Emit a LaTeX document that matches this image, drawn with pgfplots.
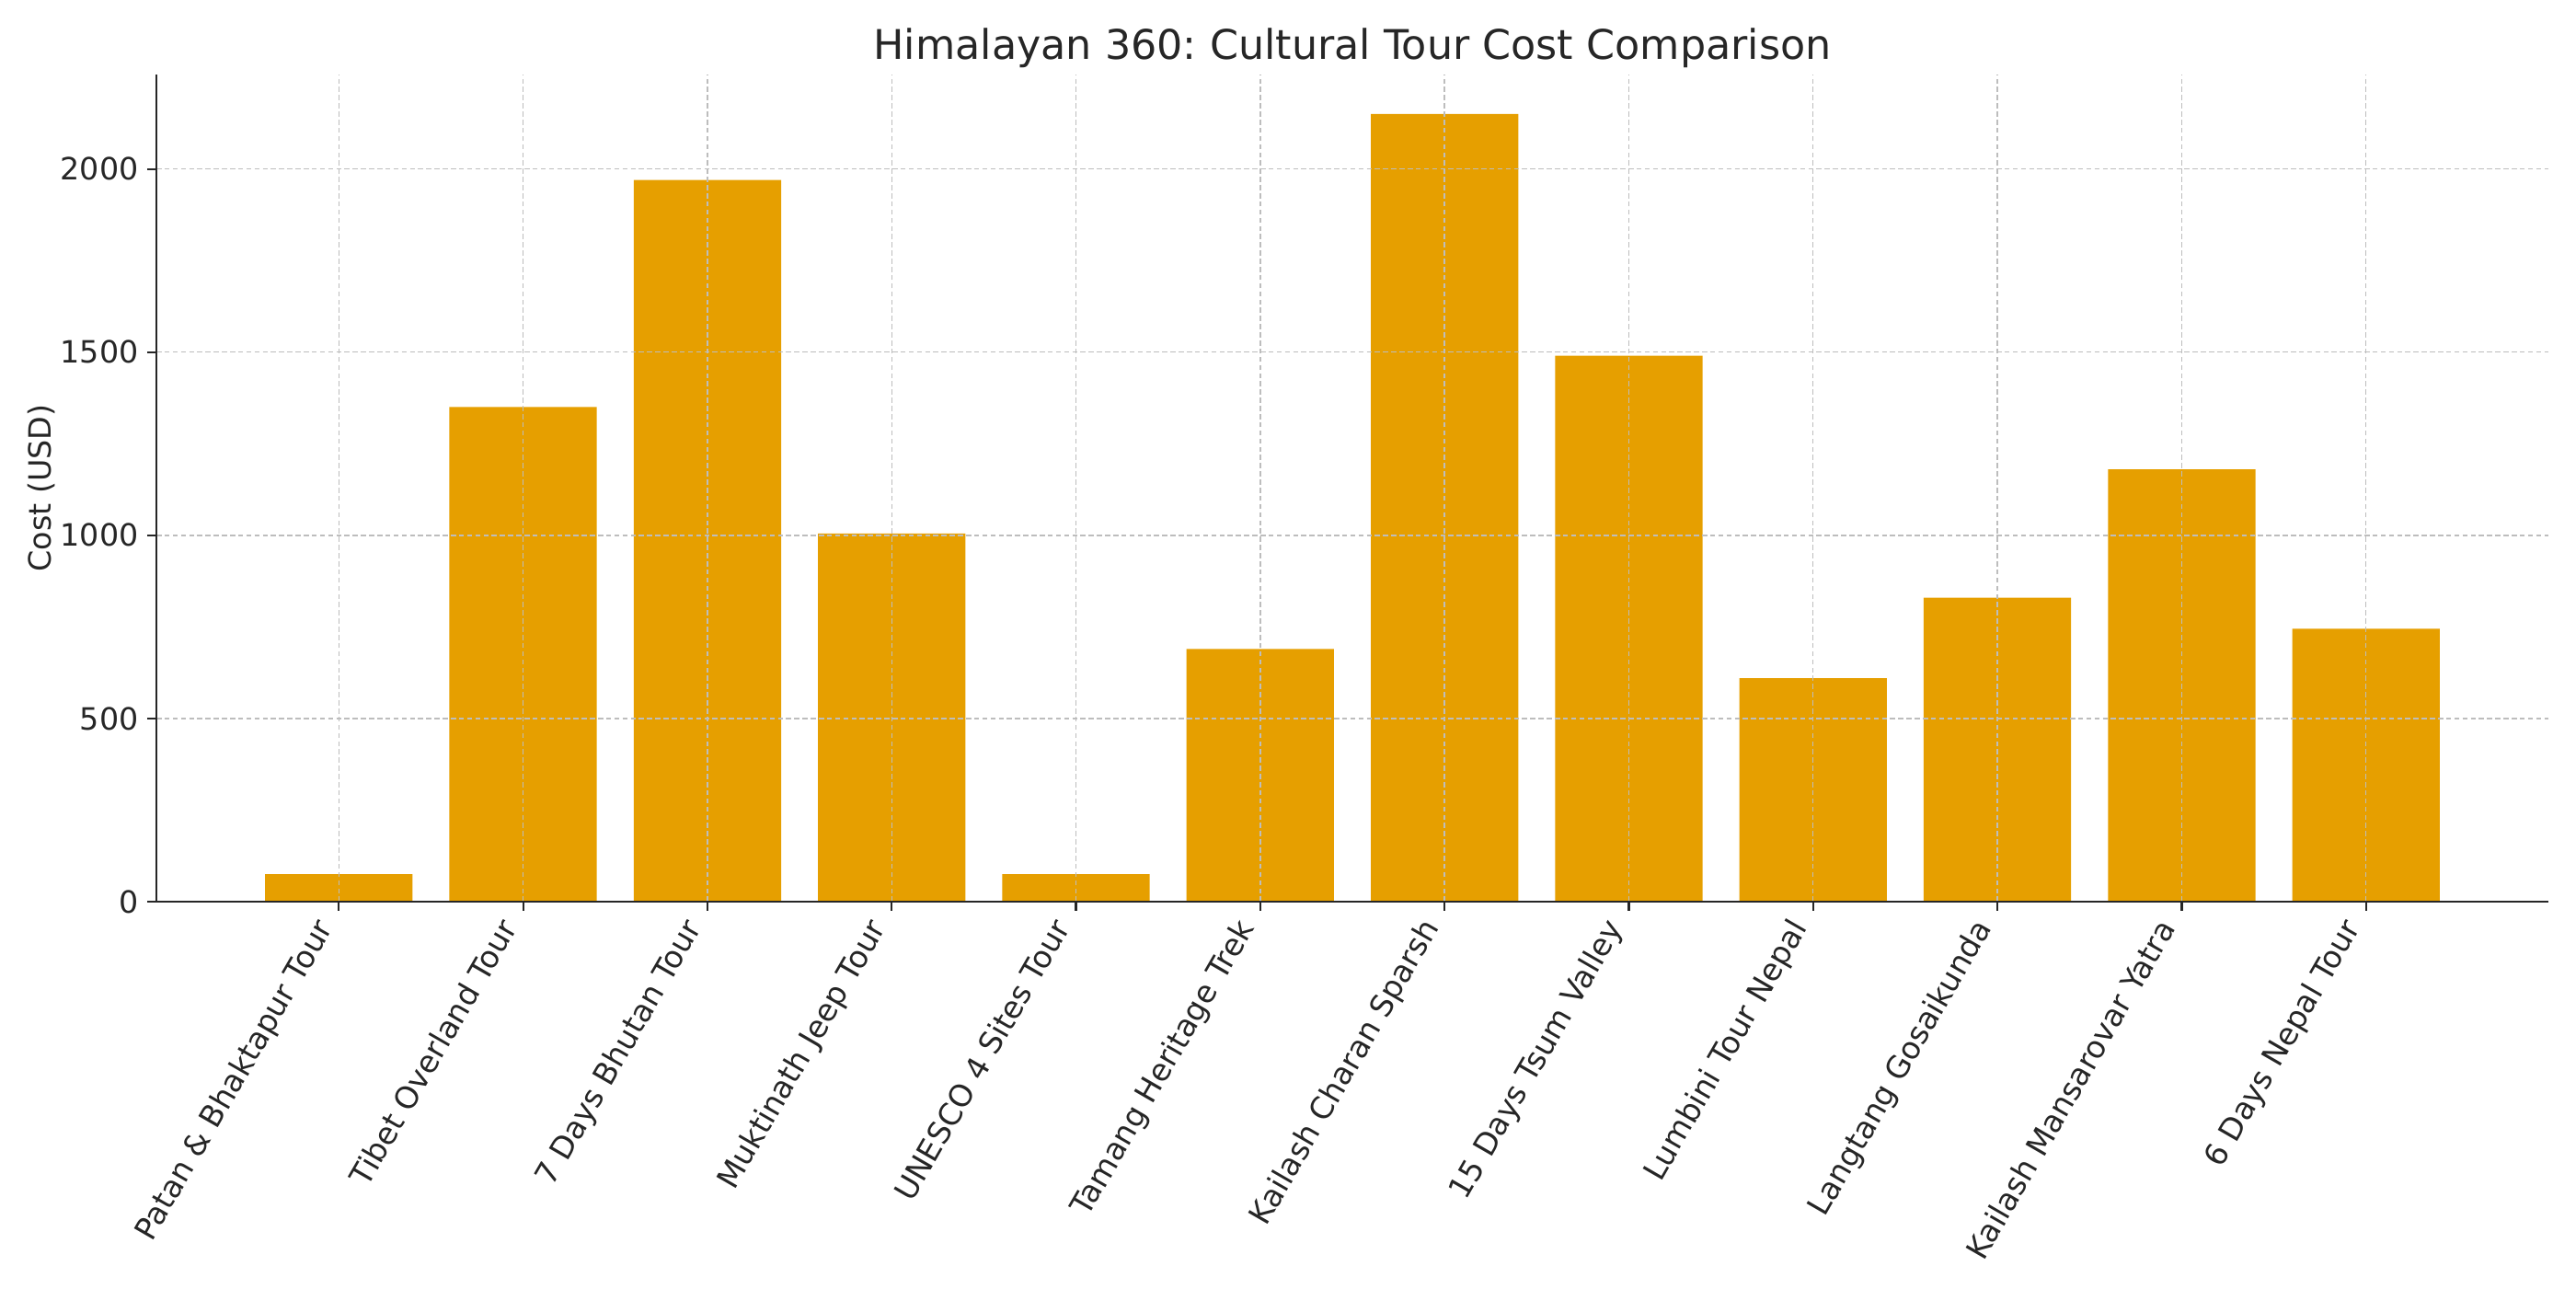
\documentclass[border=0pt]{standalone}
\usepackage{pgfplots}
\pgfplotsset{compat=1.18}
\usepackage{fontspec}
\setmainfont{DejaVu Sans}
\frenchspacing
\definecolor{barc}{HTML}{E69F00}
\definecolor{txt}{HTML}{262626}
\definecolor{gridc}{HTML}{BDBDBD}
\begin{document}
\begin{tikzpicture}
\path[use as bounding box] (-61.2pt,-151.2pt) rectangle (946.8pt,352.8pt);
\begin{axis}[
  at={(0,0)}, anchor=south west,
  scale only axis,
  width=936pt, height=323.6pt,
  xmin=-0.99, xmax=11.99,
  ymin=0, ymax=2257.5,
  axis x line*=bottom, axis y line*=left,
  axis line style={txt, line width=1pt},
  axis on top,
  tick align=outside,
  major tick length=3.5pt,
  tick style={txt, line width=0.8pt},
  xtick={0,...,11},
  xticklabels={Patan \& Bhaktapur Tour, Tibet Overland Tour, 7 Days Bhutan Tour, Muktinath Jeep Tour, UNESCO 4 Sites Tour, Tamang Heritage Trek, Kailash Charan Sparsh, 15 Days Tsum Valley, Lumbini Tour Nepal, Langtang Gosaikunda, Kailash Mansarovar Yatra, 6 Days Nepal Tour},
  ytick={0,500,1000,1500,2000},
  yticklabel style={font=\fontsize{12}{14}\selectfont, color=txt},
  xticklabel style={font=\fontsize{12}{14}\selectfont, color=txt, xshift=-10pt, yshift=-2pt, rotate=60, anchor=north east, inner sep=0pt},
  /pgf/number format/assume math mode=true,
  /pgf/number format/set thousands separator={},
  grid=major,
  major grid style={gridc, dashed, dash pattern=on 2pt off 1.2pt, line width=0.5pt},
  ylabel={Cost (USD)},
  ylabel style={at={(axis description cs:-0.048,0.5)}, anchor=center, font=\fontsize{12}{14}\selectfont, color=txt},
  title={Himalayan 360: Cultural Tour Cost Comparison},
  title style={at={(axis description cs:0.5,1)}, anchor=base, yshift=0pt, inner sep=0pt, font=\fontsize{16}{19}\selectfont, color=txt},
]
\addplot[ybar, bar width=0.8, bar shift=0pt, fill=barc, draw=none] coordinates {
(0,75) (1,1350) (2,1970) (3,1005) (4,75) (5,690) (6,2150) (7,1490) (8,610) (9,830) (10,1180) (11,745)
};
\end{axis}
\end{tikzpicture}
\end{document}
